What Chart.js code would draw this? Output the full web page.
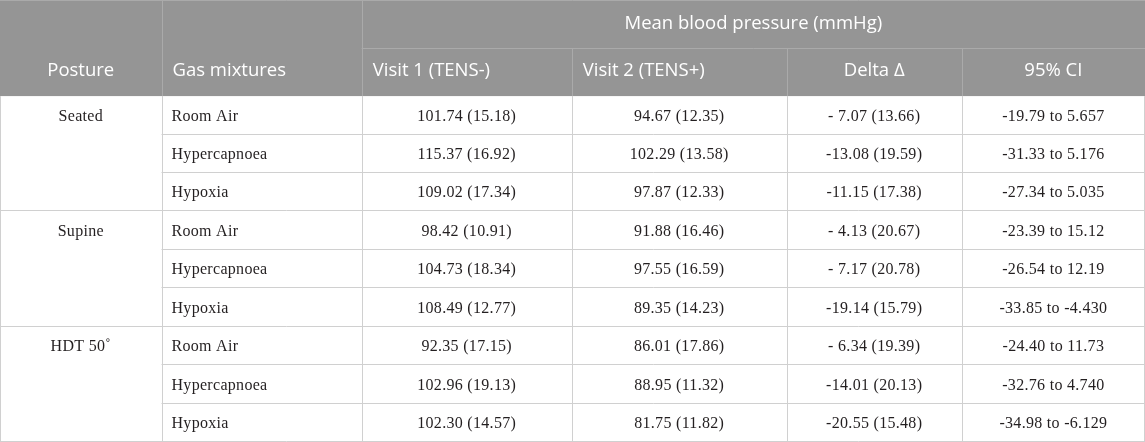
<!DOCTYPE html>
<html lang="en">
<head>
    <meta charset="UTF-8">
    <title>Mean blood pressure (mmHg)</title>
    <script src="https://cdn.jsdelivr.net/npm/chart.js"></script>
    <style>
        html, body { margin: 0; padding: 0; background: #fff; }
        #wrap { width: 1145px; height: 442px; position: relative; }
    </style>
</head>
<body>
    <div id="wrap"><canvas id="myChart"></canvas></div>

    <script>
        // Table content
        const groupTitle = 'Mean blood pressure (mmHg)';
        const headers = ['Posture', 'Gas mixtures', 'Visit 1 (TENS-)', 'Visit 2 (TENS+)', 'Delta \u0394', '95% CI'];
        const postures = ['Seated', 'Supine', 'HDT 50\u02da'];
        const gasMixtures = ['Room Air', 'Hypercapnoea', 'Hypoxia'];
        const visit1 = ['101.74 (15.18)', '115.37 (16.92)', '109.02 (17.34)', '98.42 (10.91)', '104.73 (18.34)', '108.49 (12.77)', '92.35 (17.15)', '102.96 (19.13)', '102.30 (14.57)'];
        const visit2 = ['94.67 (12.35)', '102.29 (13.58)', '97.87 (12.33)', '91.88 (16.46)', '97.55 (16.59)', '89.35 (14.23)', '86.01 (17.86)', '88.95 (11.32)', '81.75 (11.82)'];
        const delta = ['- 7.07 (13.66)', '-13.08 (19.59)', '-11.15 (17.38)', '- 4.13 (20.67)', '- 7.17 (20.78)', '-19.14 (15.79)', '- 6.34 (19.39)', '-14.01 (20.13)', '-20.55 (15.48)'];
        const ci = ['-19.79 to 5.657', '-31.33 to 5.176', '-27.34 to 5.035', '-23.39 to 15.12', '-26.54 to 12.19', '-33.85 to -4.430', '-24.40 to 11.73', '-32.76 to 4.740', '-34.98 to -6.129'];

        // Layout: column edges on the x scale, header rows on the y scale
        const colEdges = [0, 161.5, 361.7, 571.7, 786.7, 961.7, 1145];
        const headerTop = -2.5, headerMid = -1.25;
        const nRows = postures.length * gasMixtures.length;

        const headFont = '18.5px "Open Sans"';
        const bodyFont = '16px "Liberation Serif"';
        const headBg = '#959595';
        const headLine = '#aaaaaa';
        const bodyLine = '#d0d0d0';
        const textColor = '#231f20';

        const colMid = c => (colEdges[c] + colEdges[c + 1]) / 2;

        // one dataset per column, one point per cell
        const gasCol = postures.flatMap(() => gasMixtures);
        const columns = [
            { values: postures, col: 0, rows: postures.map((p, i) => i * gasMixtures.length), align: 'center' },
            { values: gasCol, col: 1, align: 'left' },
            { values: visit1, col: 2, align: 'center' },
            { values: visit2, col: 3, align: 'center' },
            { values: delta, col: 4, align: 'center' },
            { values: ci, col: 5, align: 'center' }
        ];

        const datasets = columns.map(c => ({
            label: headers[c.col],
            data: c.values.map((v, i) => ({ x: colMid(c.col), y: (c.rows ? c.rows[i] : i) + 0.5, text: v })),
            align: c.align,
            col: c.col,
            pointRadius: 0,
            showLine: false
        }));

        const tablePlugin = {
            id: 'tablePlugin',
            beforeDatasetsDraw(chart) {
                const { ctx, scales: { x, y } } = chart;
                const left = x.getPixelForValue(colEdges[0]);
                const right = x.getPixelForValue(colEdges[colEdges.length - 1]);
                const top = y.getPixelForValue(headerTop);
                const hBottom = y.getPixelForValue(0);
                const bottom = y.getPixelForValue(nRows);
                ctx.save();
                ctx.fillStyle = headBg;
                ctx.fillRect(left, top, right - left, hBottom - top);

                // header lines
                ctx.strokeStyle = headLine;
                ctx.lineWidth = 1;
                ctx.beginPath();
                ctx.moveTo(left, top + 0.5); ctx.lineTo(right, top + 0.5);
                const midY = Math.round(y.getPixelForValue(headerMid)) + 0.5;
                ctx.moveTo(x.getPixelForValue(colEdges[2]), midY); ctx.lineTo(right, midY);
                colEdges.slice(1, -1).forEach((e, i) => {
                    const px = Math.round(x.getPixelForValue(e)) + 0.5;
                    const y0 = i + 1 >= 3 ? midY : top;
                    ctx.moveTo(px, y0); ctx.lineTo(px, hBottom);
                });
                ctx.stroke();

                // body lines
                ctx.strokeStyle = bodyLine;
                ctx.beginPath();
                for (let r = 1; r <= nRows; r++) {
                    const py = Math.round(y.getPixelForValue(r)) - 0.5;
                    const startX = (r % gasMixtures.length === 0) ? left : x.getPixelForValue(colEdges[1]);
                    ctx.moveTo(startX, py); ctx.lineTo(right, py);
                }
                colEdges.forEach(e => {
                    let px = Math.round(x.getPixelForValue(e)) + 0.5;
                    if (px > right - 1) px = right - 0.5;
                    ctx.moveTo(px, hBottom); ctx.lineTo(px, bottom);
                });
                ctx.stroke();
                ctx.restore();
            },
            afterDatasetsDraw(chart) {
                const { ctx, scales: { x, y } } = chart;
                ctx.save();
                ctx.textBaseline = 'middle';

                // header text
                ctx.font = headFont;
                ctx.fillStyle = '#ffffff';
                ctx.textAlign = 'center';
                ctx.fillText(groupTitle, x.getPixelForValue((colEdges[2] + colEdges[6]) / 2), y.getPixelForValue((headerTop + headerMid) / 2));
                const hy = y.getPixelForValue(headerMid / 2) - 1;
                headers.forEach((h, c) => {
                    const a = (c === 1 || c === 2 || c === 3) ? 'left' : 'center';
                    ctx.textAlign = a;
                    const px = a === 'left' ? x.getPixelForValue(colEdges[c]) + 11 : x.getPixelForValue(colMid(c));
                    ctx.fillText(h, px, hy);
                });

                // body cells
                ctx.font = bodyFont;
                ctx.letterSpacing = '0.3px';
                ctx.fillStyle = textColor;
                chart.data.datasets.forEach((ds, di) => {
                    const meta = chart.getDatasetMeta(di);
                    meta.data.forEach((pt, i) => {
                        ctx.textAlign = ds.align;
                        const px = ds.align === 'left' ? x.getPixelForValue(colEdges[ds.col]) + 10 : pt.x;
                        ctx.fillText(ds.data[i].text, px, pt.y + 1);
                    });
                });
                ctx.restore();
            }
        };

        new Chart(document.getElementById('myChart'), {
            type: 'scatter',
            data: { datasets },
            options: {
                responsive: true,
                maintainAspectRatio: false,
                animation: false,
                layout: { padding: 0 },
                plugins: { legend: { display: false }, tooltip: { enabled: false } },
                scales: {
                    x: { type: 'linear', display: false, min: colEdges[0], max: colEdges[colEdges.length - 1] },
                    y: { type: 'linear', display: false, reverse: true, min: headerTop, max: nRows }
                }
            },
            plugins: [tablePlugin]
        });
    </script>
</body>
</html>
